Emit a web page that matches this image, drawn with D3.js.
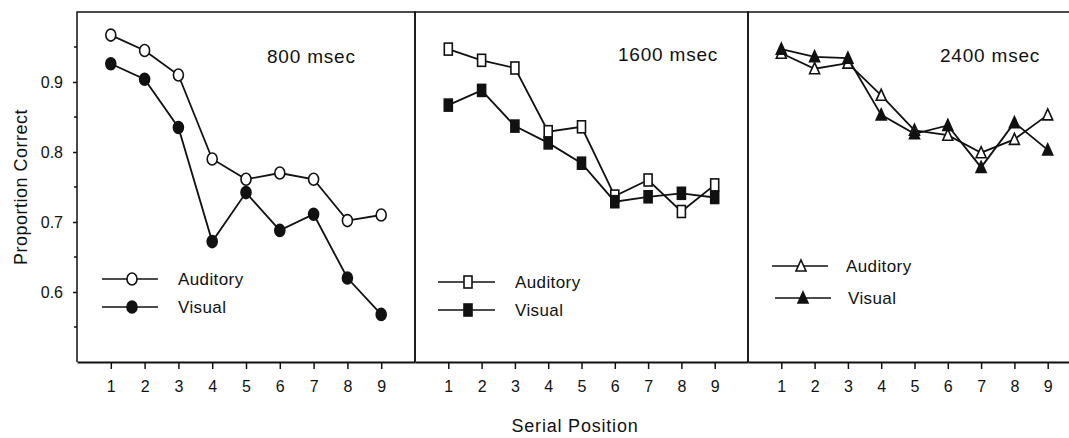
<!DOCTYPE html>
<html>
<head>
<meta charset="utf-8">
<script src="https://cdn.jsdelivr.net/npm/d3@7"></script>
<style>
  body { margin: 0; background: #fff; }
  svg text { font-family: "Liberation Sans", Arial, sans-serif; fill: #111; }
</style>
</head>
<body>
<div id="chart"></div>
<script>
var width = 1069,
    height = 438;

// serial positions and proportion correct
var positions = [1, 2, 3, 4, 5, 6, 7, 8, 9];
var auditory800 = [0.967, 0.945, 0.910, 0.790, 0.761, 0.770, 0.761, 0.702, 0.710];
var visual800 = [0.926, 0.904, 0.835, 0.672, 0.742, 0.688, 0.711, 0.620, 0.568];
var auditory1600 = [0.947, 0.931, 0.920, 0.829, 0.836, 0.737, 0.760, 0.715, 0.753];
var visual1600 = [0.867, 0.888, 0.837, 0.813, 0.784, 0.729, 0.736, 0.741, 0.735];
var auditory2400 = [0.941, 0.919, 0.927, 0.881, 0.831, 0.824, 0.799, 0.818, 0.853];
var visual2400 = [0.947, 0.936, 0.934, 0.853, 0.826, 0.838, 0.778, 0.842, 0.803];
var panelTitles = ["800 msec", "1600 msec", "2400 msec"];
var seriesNames = ["Auditory", "Visual"];
var yTicks = [0.6, 0.7, 0.8, 0.9];
var yMinorTicks = [0.55, 0.65, 0.75, 0.85, 0.95];

var panels = [
  { title: panelTitles[0], x0: 77, x1: 415, shape: "circle", aud: auditory800, vis: visual800,
    titleX: 267, titleY: 63, legX: 102, legW: 56, legMark: 132, legY: [279, 307], legText: [178, 178] },
  { title: panelTitles[1], x0: 415, x1: 748, shape: "square", aud: auditory1600, vis: visual1600,
    titleX: 618, titleY: 61, legX: 438, legW: 57, legMark: 468, legY: [282, 310], legText: [515, 515] },
  { title: panelTitles[2], x0: 748, x1: 1081, shape: "triangle", aud: auditory2400, vis: visual2400,
    titleX: 940, titleY: 62, legX: 772, legW: 56, legMark: 801, legY: [266, 298], legText: [846, 848] }
];

var plotTop = 12, plotBottom = 362;

var svg = d3.select("#chart").append("svg")
    .attr("width", width)
    .attr("height", height);

var y = d3.scaleLinear()
    .domain([0.5, 1.0])
    .range([plotBottom, plotTop]);

function drawMarker(g, shape, cx, cy, filled) {
  var fill = filled ? "#111" : "#fff";
  if (shape === "circle") {
    g.append("ellipse")
      .attr("cx", cx).attr("cy", cy)
      .attr("rx", 5).attr("ry", 6)
      .attr("fill", fill).attr("stroke", "#111").attr("stroke-width", 1.6);
  } else if (shape === "square") {
    g.append("rect")
      .attr("x", cx - 4).attr("y", cy - 6)
      .attr("width", 8).attr("height", 12)
      .attr("fill", fill).attr("stroke", "#111").attr("stroke-width", 1.6);
  } else {
    g.append("path")
      .attr("d", "M" + cx + "," + (cy - 6) + "L" + (cx + 5) + "," + (cy + 5) + "L" + (cx - 5) + "," + (cy + 5) + "Z")
      .attr("fill", fill).attr("stroke", "#111").attr("stroke-width", 1.6);
  }
}

panels.forEach(function (p, pi) {
  var x = d3.scaleLinear()
      .domain([0, 10])
      .range([p.x0, p.x1]);

  var g = svg.append("g");

  // frame: left, top, right
  g.append("path")
    .attr("d", "M" + p.x0 + "," + plotBottom + "V" + plotTop + "H" + p.x1 + "V" + plotBottom)
    .attr("fill", "none")
    .attr("stroke", "#111")
    .attr("stroke-width", 1.5);

  // x axis
  var xAxis = g.append("g")
    .attr("transform", "translate(0," + plotBottom + ")")
    .call(d3.axisBottom(x).tickValues(positions).tickSize(7).tickSizeOuter(0).tickPadding(12));
  xAxis.select(".domain").attr("stroke", "#111").attr("stroke-width", 2);
  xAxis.selectAll(".tick line").attr("stroke", "#111").attr("stroke-width", 1.5);
  xAxis.selectAll(".tick text")
    .style("font-size", "16px")
    .style("font-family", "Liberation Sans, Arial, sans-serif")
    .attr("fill", "#111");

  // two series
  var line = d3.line()
    .x(function (d, i) { return x(positions[i]); })
    .y(function (d) { return y(d); });

  [p.aud, p.vis].forEach(function (vals) {
    g.append("path")
      .datum(vals)
      .attr("d", line)
      .attr("fill", "none")
      .attr("stroke", "#111")
      .attr("stroke-width", 1.8);
  });
  [p.aud, p.vis].forEach(function (vals, si) {
    vals.forEach(function (v, i) {
      drawMarker(g, p.shape, x(positions[i]), y(v), si === 1);
    });
  });

  // title
  g.append("text")
    .attr("x", p.titleX)
    .attr("y", p.titleY)
    .style("font-size", "19px")
    .style("letter-spacing", "0.8px")
    .text(p.title);

  // legend
  seriesNames.forEach(function (name, si) {
    var ly = p.legY[si];
    var lx = p.legX + (pi === 2 ? si * 3 : 0);
    g.append("line")
      .attr("x1", lx).attr("x2", lx + p.legW)
      .attr("y1", ly).attr("y2", ly)
      .attr("stroke", "#111").attr("stroke-width", 1.4);
    drawMarker(g, p.shape, p.legMark + (pi === 2 ? si * 2 : 0), ly, si === 1);
    g.append("text")
      .attr("x", p.legText[si])
      .attr("y", ly + 6)
      .style("font-size", "17px")
      .style("letter-spacing", "0.4px")
      .text(name);
  });
});

// y axis on the first panel
var yAxis = svg.append("g")
  .attr("transform", "translate(" + panels[0].x0 + ",0)")
  .call(d3.axisLeft(y).tickValues(yTicks).tickSize(4).tickPadding(10).tickFormat(d3.format(".1f")));
yAxis.select(".domain").remove();
yAxis.selectAll(".tick line").attr("stroke", "#111").attr("stroke-width", 1.5);
yAxis.selectAll(".tick text")
  .style("font-size", "16px")
  .style("font-family", "Liberation Sans, Arial, sans-serif")
  .attr("fill", "#111");

svg.append("g").selectAll("line")
  .data(yMinorTicks)
  .join("line")
  .attr("x1", panels[0].x0 - 3)
  .attr("x2", panels[0].x0)
  .attr("y1", function (d) { return y(d); })
  .attr("y2", function (d) { return y(d); })
  .attr("stroke", "#111")
  .attr("stroke-width", 1.5);

// axis titles
svg.append("text")
  .attr("transform", "translate(27," + ((plotTop + plotBottom) / 2) + ") rotate(-90)")
  .attr("text-anchor", "middle")
  .style("font-size", "18px")
  .style("letter-spacing", "0.5px")
  .text("Proportion Correct");

svg.append("text")
  .attr("x", 575)
  .attr("y", 432)
  .attr("text-anchor", "middle")
  .style("font-size", "18px")
  .style("letter-spacing", "0.8px")
  .text("Serial Position");
</script>
</body>
</html>
